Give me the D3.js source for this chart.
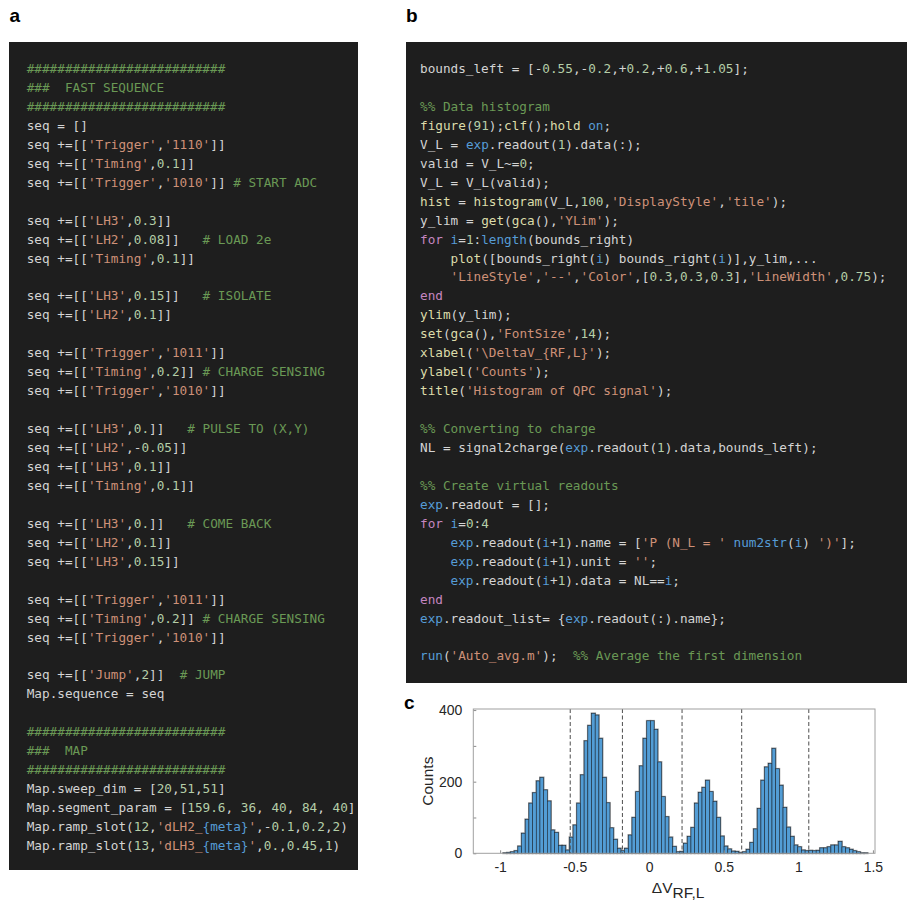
<!DOCTYPE html>
<html>
<head>
<meta charset="utf-8">
<script src="https://cdn.jsdelivr.net/npm/d3@7"></script>
<style>
  body { margin: 0; background: #ffffff; }
  svg { display: block; }
</style>
</head>
<body>
<svg id="fig" width="908" height="900"></svg>
<script>
// ---------- panel a: fast-sequence script (Python) ----------
const seqLines = [
  "##########################",
  "###  FAST SEQUENCE",
  "##########################",
  "seq = []",
  "seq +=[['Trigger','1110']]",
  "seq +=[['Timing',0.1]]",
  "seq +=[['Trigger','1010']] # START ADC",
  "",
  "seq +=[['LH3',0.3]]",
  "seq +=[['LH2',0.08]]   # LOAD 2e",
  "seq +=[['Timing',0.1]]",
  "",
  "seq +=[['LH3',0.15]]   # ISOLATE",
  "seq +=[['LH2',0.1]]",
  "",
  "seq +=[['Trigger','1011']]",
  "seq +=[['Timing',0.2]] # CHARGE SENSING",
  "seq +=[['Trigger','1010']]",
  "",
  "seq +=[['LH3',0.]]   # PULSE TO (X,Y)",
  "seq +=[['LH2',-0.05]]",
  "seq +=[['LH3',0.1]]",
  "seq +=[['Timing',0.1]]",
  "",
  "seq +=[['LH3',0.]]   # COME BACK",
  "seq +=[['LH2',0.1]]",
  "seq +=[['LH3',0.15]]",
  "",
  "seq +=[['Trigger','1011']]",
  "seq +=[['Timing',0.2]] # CHARGE SENSING",
  "seq +=[['Trigger','1010']]",
  "",
  "seq +=[['Jump',2]]  # JUMP",
  "Map.sequence = seq",
  "",
  "##########################",
  "###  MAP",
  "##########################",
  "Map.sweep_dim = [20,51,51]",
  "Map.segment_param = [159.6, 36, 40, 84, 40]",
  "Map.ramp_slot(12,'dLH2_{meta}',-0.1,0.2,2)",
  "Map.ramp_slot(13,'dLH3_{meta}',0.,0.45,1)"
];

// ---------- panel b: analysis script (MATLAB) ----------
const analysisLines = [
  "bounds_left = [-0.55,-0.2,+0.2,+0.6,+1.05];",
  "",
  "%% Data histogram",
  "figure(91);clf();hold on;",
  "V_L = exp.readout(1).data(:);",
  "valid = V_L~=0;",
  "V_L = V_L(valid);",
  "hist = histogram(V_L,100,'DisplayStyle','tile');",
  "y_lim = get(gca(),'YLim');",
  "for i=1:length(bounds_right)",
  "    plot([bounds_right(i) bounds_right(i)],y_lim,...",
  "    'LineStyle','--','Color',[0.3,0.3,0.3],'LineWidth',0.75);",
  "end",
  "ylim(y_lim);",
  "set(gca(),'FontSize',14);",
  "xlabel('\\DeltaV_{RF,L}');",
  "ylabel('Counts');",
  "title('Histogram of QPC signal');",
  "",
  "%% Converting to charge",
  "NL = signal2charge(exp.readout(1).data,bounds_left);",
  "",
  "%% Create virtual readouts",
  "exp.readout = [];",
  "for i=0:4",
  "    exp.readout(i+1).name = ['P (N_L = ' num2str(i) ')'];",
  "    exp.readout(i+1).unit = '';",
  "    exp.readout(i+1).data = NL==i;",
  "end",
  "exp.readout_list= {exp.readout(:).name};",
  "",
  "run('Auto_avg.m');  %% Average the first dimension"
];

// ---------- panel c: histogram of the QPC signal ----------
const binStart = -0.98;
const binWidth = 0.0247;
const binCounts = [
  1, 2, 4, 7, 20, 56, 95, 140, 169, 202,
  212, 177, 146, 65, 58, 22, 22, 9, 45, 79,
  140, 219, 314, 357, 391, 386, 321, 212, 141, 71,
  39, 14, 7, 14, 51, 100, 172, 244, 321, 370,
  370, 346, 255, 158, 102, 45, 19, 4, 5, 28,
  47, 72, 140, 170, 184, 204, 172, 145, 100, 48,
  20, 12, 6, 5, 2, 4, 11, 30, 68, 125,
  204, 241, 251, 293, 236, 190, 128, 73, 47, 23,
  18, 9, 7, 8, 7, 8, 15, 15, 18, 23,
  23, 33, 18, 15, 11, 7, 4, 1, 1, 0
];
const boundsRight = [-0.53, -0.18, 0.22, 0.62, 1.07];
const xTickValues = [-1, -0.5, 0, 0.5, 1, 1.5];
const yTickValues = [0, 100, 200, 300, 400];
const yTickLabelled = [0, 200, 400];
const xDomain = [-1.18, 1.514];
const yDomain = [0, 403];

// ---------- drawing ----------
const svg = d3.select("#fig");
const SANS = "'Liberation Sans', Arial, Helvetica, sans-serif";
const MONO = "'DejaVu Sans Mono', 'Liberation Mono', monospace";

const palette = {
  text: "#d4d4d4",
  comment: "#6a9955",
  string: "#ce9178",
  number: "#b5cea8",
  keyword: "#c586c0",
  func: "#dcdcaa",
  builtin: "#569cd6"
};

// Python highlighter: comments, strings (with {format} fields), numbers
function tokenizePython(line) {
  const toks = [];
  let i = 0;
  const push = (text, cls, col) => toks.push({ text, cls, col });
  while (i < line.length) {
    const ch = line[i];
    if (ch === "#") { push(line.slice(i), "comment", i); break; }
    if (ch === "'") {
      let j = line.indexOf("'", i + 1);
      if (j < 0) j = line.length - 1;
      const s = line.slice(i, j + 1);
      const re = /\{[^}]*\}/g;
      let last = 0, m;
      while ((m = re.exec(s)) !== null) {
        if (m.index > last) push(s.slice(last, m.index), "string", i + last);
        push(m[0], "builtin", i + m.index);
        last = m.index + m[0].length;
      }
      if (last < s.length) push(s.slice(last), "string", i + last);
      i = j + 1; continue;
    }
    let m = line.slice(i).match(/^[A-Za-z_]\w*/);
    if (m) { push(m[0], "text", i); i += m[0].length; continue; }
    m = line.slice(i).match(/^\d+(\.\d*)?/);
    if (m) { push(m[0], "number", i); i += m[0].length; continue; }
    if (ch !== " ") push(ch, "text", i);
    i++;
  }
  return toks;
}

// MATLAB highlighter
const mKeywords = new Set(["for", "end"]);
const mFuncs = new Set(["figure", "clf", "hold", "hist", "histogram", "get", "gca", "plot",
  "ylim", "set", "xlabel", "ylabel", "title"]);
const mBuiltins = new Set(["on", "exp", "i", "length", "num2str", "run"]);
function tokenizeMatlab(line) {
  const toks = [];
  let i = 0;
  const push = (text, cls, col) => toks.push({ text, cls, col });
  while (i < line.length) {
    const ch = line[i];
    if (ch === "%") { push(line.slice(i), "comment", i); break; }
    if (ch === "'") {
      let j = line.indexOf("'", i + 1);
      if (j < 0) j = line.length - 1;
      push(line.slice(i, j + 1), "string", i);
      i = j + 1; continue;
    }
    let m = line.slice(i).match(/^[A-Za-z_]\w*/);
    if (m) {
      const w = m[0];
      const cls = mKeywords.has(w) ? "keyword" : mFuncs.has(w) ? "func" : mBuiltins.has(w) ? "builtin" : "text";
      push(w, cls, i); i += w.length; continue;
    }
    m = line.slice(i).match(/^\d+(\.\d*)?/);
    if (m) { push(m[0], "number", i); i += m[0].length; continue; }
    if (ch !== " ") push(ch, "text", i);
    i++;
  }
  return toks;
}

const charW = 7.647, lineH = 18.95;

// one <text> per source line, one coloured <tspan> per token placed on its column
function drawCode(lines, tokenizer, box, x0, y0) {
  const g = svg.append("g");
  g.append("rect")
    .attr("x", box.x).attr("y", box.y).attr("width", box.w).attr("height", box.h)
    .attr("fill", "#1e1e1e");
  const rows = g.selectAll("text.row").data(lines.map((l, i) => ({ l, i })).filter(d => d.l.length))
    .join("text").attr("class", "row")
    .attr("x", x0)
    .attr("y", d => y0 + d.i * lineH)
    .attr("font-family", MONO)
    .attr("font-size", 12.7)
    .attr("xml:space", "preserve")
    .style("white-space", "pre");
  rows.selectAll("tspan").data(d => tokenizer(d.l)).join("tspan")
    .attr("x", t => x0 + t.col * charW)
    .attr("fill", t => palette[t.cls])
    .text(t => t.text);
}

drawCode(seqLines, tokenizePython, { x: 9, y: 42, w: 349, h: 828 }, 26.7, 73);
drawCode(analysisLines, tokenizeMatlab, { x: 406, y: 42, w: 501, h: 641 }, 420, 73);

// panel letters
const letters = [
  { t: "a", x: 9.5, y: 21.5 },
  { t: "b", x: 406, y: 21.5 },
  { t: "c", x: 404, y: 709 }
];
svg.selectAll("text.panel").data(letters).join("text").attr("class", "panel")
  .attr("x", d => d.x).attr("y", d => d.y)
  .attr("font-family", SANS).attr("font-weight", "bold").attr("font-size", 19)
  .attr("fill", "#000").text(d => d.t);

// histogram
const plot = { left: 473.3, right: 875, top: 709, bottom: 853.3 };
const x = d3.scaleLinear().domain(xDomain).range([plot.left, plot.right]);
const y = d3.scaleLinear().domain(yDomain).range([plot.bottom, plot.top]);

const hg = svg.append("g");
const bins = binCounts.map((c, i) => ({
  x0: binStart + i * binWidth,
  x1: binStart + (i + 1) * binWidth,
  c
})).filter(d => d.c > 0);

// soft grey halo around the bar outline
hg.append("g").selectAll("rect").data(bins).join("rect")
  .attr("x", d => x(d.x0))
  .attr("y", d => y(d.c))
  .attr("width", d => x(d.x1) - x(d.x0))
  .attr("height", d => y(0) - y(d.c))
  .attr("fill", "none")
  .attr("stroke", "#9a9a9a")
  .attr("stroke-width", 1.8);

hg.append("g").selectAll("rect").data(bins).join("rect")
  .attr("x", d => x(d.x0))
  .attr("y", d => y(d.c))
  .attr("width", d => x(d.x1) - x(d.x0))
  .attr("height", d => y(0) - y(d.c))
  .attr("fill", "#539dd5")
  .attr("stroke", "#1c2a38")
  .attr("stroke-width", 0.6);

// class boundaries
hg.append("g").selectAll("line").data(boundsRight).join("line")
  .attr("x1", d => x(d)).attr("x2", d => x(d))
  .attr("y1", y(yDomain[1])).attr("y2", y(0))
  .attr("stroke", "#4d4d4d")
  .attr("stroke-width", 1)
  .attr("stroke-dasharray", "4,2.5");

// axes
const fmt = d => String(d);
const xAxis = d3.axisBottom(x).tickValues(xTickValues).tickFormat(fmt)
  .tickSizeInner(-3).tickSizeOuter(0).tickPadding(9);
const yAxis = d3.axisLeft(y).tickValues(yTickValues)
  .tickFormat(d => yTickLabelled.includes(d) ? fmt(d) : "")
  .tickSizeInner(-3).tickSizeOuter(0).tickPadding(11);

const gx = hg.append("g").attr("transform", `translate(0,${plot.bottom})`).call(xAxis);
const gy = hg.append("g").attr("transform", `translate(${plot.left},0)`).call(yAxis);
[gx, gy].forEach(a => {
  a.select(".domain").remove();
  a.selectAll(".tick line").attr("stroke", "#8c8c8c");
  a.selectAll(".tick text").attr("fill", "#262626")
    .attr("font-family", SANS).attr("font-size", 14);
});

// axes box
hg.append("rect")
  .attr("x", plot.left).attr("y", plot.top)
  .attr("width", plot.right - plot.left).attr("height", plot.bottom - plot.top)
  .attr("fill", "none").attr("stroke", "#a0a0a0").attr("stroke-width", 1);

// axis titles
hg.append("text")
  .attr("transform", `translate(433,${(plot.top + plot.bottom) / 2}) rotate(-90)`)
  .attr("text-anchor", "middle")
  .attr("font-family", SANS).attr("font-size", 15.5).attr("fill", "#262626")
  .text("Counts");

const xl = hg.append("text")
  .attr("x", (plot.left + plot.right) / 2 + 4).attr("y", 893)
  .attr("text-anchor", "middle")
  .attr("font-family", SANS).attr("font-size", 15.5).attr("fill", "#262626");
xl.append("tspan").text("ΔV");
xl.append("tspan").attr("dy", 4.5).text("RF,L");
</script>
</body>
</html>
